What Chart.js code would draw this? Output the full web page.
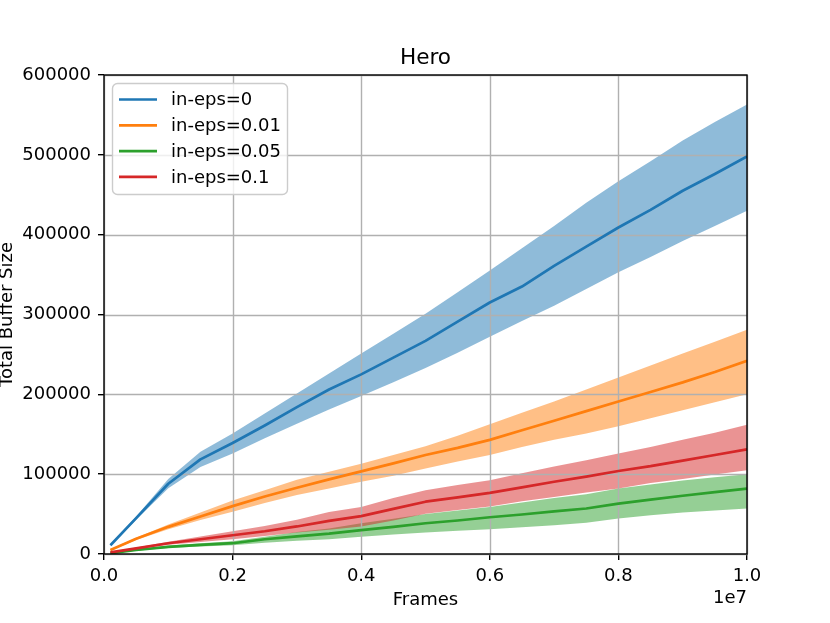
<!DOCTYPE html>
<html lang="en">
<head>
    <meta charset="UTF-8">
    <title>Hero</title>
    <script src="https://cdn.jsdelivr.net/npm/chart.js@4.4.1/dist/chart.umd.min.js"></script>
    <style>
        html, body {
            margin: 0;
            padding: 0;
            background: #ffffff;
        }
        #chart {
            display: block;
        }
    </style>
</head>
<body>
    <canvas id="chart" width="830" height="623"></canvas>

    <script>
        // Frames (x values)
        const FRAMES = [1e5, 5e5, 1e6, 1.5e6, 2e6, 2.5e6, 3e6, 3.5e6, 4e6, 4.5e6, 5e6,
                        5.5e6, 6e6, 6.5e6, 7e6, 7.5e6, 8e6, 8.5e6, 9e6, 9.5e6, 1e7];

        // in-eps=0
        const EPS0_MEAN = [11000, 45000, 88000, 118500, 139000, 161000, 184000, 206000, 225000, 246000, 267000,
                           291000, 315000, 335000, 361000, 385000, 409000, 431000, 455000, 476000, 498000];
        const EPS0_HIGH = [12000, 47000, 94000, 128000, 151000, 176000, 201000, 226000, 251000, 276000, 301000,
                           328000, 355000, 383000, 411000, 440000, 467000, 492000, 518000, 541000, 563000];
        const EPS0_LOW  = [10000, 43000, 82500, 109000, 126000, 145000, 163000, 181000, 198000, 215000, 233000,
                           252000, 272000, 292000, 311000, 332000, 353000, 372000, 392000, 411000, 430000];

        // in-eps=0.01
        const EPS001_MEAN = [5000, 19000, 34000, 47000, 60000, 72000, 83000, 93500, 103500, 113500, 124000,
                             133000, 143000, 155000, 167000, 179000, 191000, 203000, 215000, 228000, 242000];
        const EPS001_HIGH = [6000, 20500, 37000, 52000, 67000, 80000, 93000, 103000, 113000, 124000, 135000,
                             148000, 162500, 177000, 191000, 206000, 221000, 236000, 251000, 266000, 281000];
        const EPS001_LOW  = [4000, 17500, 31000, 42500, 53000, 64000, 74000, 82000, 90500, 98000, 107000,
                             116000, 124000, 134000, 143000, 151000, 160000, 170000, 180000, 190000, 200000];

        // in-eps=0.05
        const EPS005_MEAN = [1000, 5000, 9000, 11500, 13500, 18500, 22000, 25500, 30000, 34000, 38500,
                             42000, 46000, 49500, 53500, 57000, 63000, 68000, 73000, 77500, 82000];
        const EPS005_HIGH = [1500, 6000, 10500, 13500, 16000, 21500, 27500, 32000, 38500, 44000, 50000,
                             54500, 59000, 64500, 70000, 75000, 82000, 87000, 92000, 96000, 100000];
        const EPS005_LOW  = [500, 4000, 7500, 9500, 11000, 14000, 16500, 18500, 21500, 24500, 27000,
                             29000, 31000, 33500, 36000, 39000, 44500, 48500, 52000, 54500, 57000];

        // in-eps=0.1
        const EPS01_MEAN = [2000, 7000, 13500, 18500, 23500, 28500, 34500, 41500, 47500, 56500, 65500,
                            71000, 76500, 83500, 90500, 97000, 104000, 110000, 117000, 124000, 131000];
        const EPS01_HIGH = [2500, 8000, 15500, 22000, 28500, 35000, 43000, 52500, 59000, 70000, 80000,
                            86500, 92500, 101000, 109500, 117500, 126000, 134000, 143000, 152000, 162000];
        const EPS01_LOW  = [1500, 6000, 11500, 15000, 18500, 22500, 27000, 30500, 34500, 42000, 50500,
                            55000, 59500, 66000, 71500, 77000, 82000, 89000, 94000, 99500, 105000];

        const LABELS = ['in-eps=0', 'in-eps=0.01', 'in-eps=0.05', 'in-eps=0.1'];
        const COLORS = ['#1f77b4', '#ff7f0e', '#2ca02c', '#d62728'];
        const FILLS = ['rgba(31,119,180,0.5)', 'rgba(255,127,14,0.5)', 'rgba(44,160,44,0.5)', 'rgba(214,39,40,0.5)'];

        const SERIES = [
            [EPS0_MEAN, EPS0_HIGH, EPS0_LOW],
            [EPS001_MEAN, EPS001_HIGH, EPS001_LOW],
            [EPS005_MEAN, EPS005_HIGH, EPS005_LOW],
            [EPS01_MEAN, EPS01_HIGH, EPS01_LOW]
        ];

        const FONT = "'DejaVu Sans', sans-serif";

        function points(values) {
            return FRAMES.map((f, i) => ({ x: f, y: values[i] }));
        }

        // Build datasets: upper edge, lower edge (filled to upper), then mean line
        const datasets = [];
        SERIES.forEach(([mean, high, low], s) => {
            const base = 100 - s * 10;
            datasets.push({
                data: points(high),
                borderWidth: 0,
                borderColor: 'rgba(0,0,0,0)',
                pointRadius: 0,
                fill: false,
                order: base
            });
            datasets.push({
                data: points(low),
                borderWidth: 0,
                borderColor: 'rgba(0,0,0,0)',
                backgroundColor: FILLS[s],
                pointRadius: 0,
                fill: '-1',
                order: base
            });
            datasets.push({
                label: LABELS[s],
                data: points(mean),
                borderColor: COLORS[s],
                borderWidth: 2.7,
                borderJoinStyle: 'round',
                pointRadius: 0,
                fill: false,
                order: base - 1
            });
        });

        // Matplotlib-ish decorations: grid over fills, spines, title, labels, legend
        const decorations = {
            id: 'decorations',
            beforeDatasetsDraw(chart) {
                const { ctx, chartArea: a, scales: { x, y } } = chart;
                ctx.save();
                ctx.strokeStyle = '#b0b0b0';
                ctx.lineWidth = 1.4;
                x.ticks.forEach(t => {
                    const px = Math.round(x.getPixelForValue(t.value)) + 0.5;
                    ctx.beginPath();
                    ctx.moveTo(px, a.top);
                    ctx.lineTo(px, a.bottom);
                    ctx.stroke();
                });
                y.ticks.forEach(t => {
                    const py = Math.round(y.getPixelForValue(t.value)) + 0.5;
                    ctx.beginPath();
                    ctx.moveTo(a.left, py);
                    ctx.lineTo(a.right, py);
                    ctx.stroke();
                });
                ctx.restore();
            },
            afterDraw(chart) {
                const { ctx, chartArea: a } = chart;
                ctx.save();

                // spines
                ctx.strokeStyle = '#000';
                ctx.lineWidth = 1.4;
                ctx.strokeRect(a.left, a.top, a.right - a.left, a.bottom - a.top);

                const cx = (a.left + a.right) / 2;
                ctx.fillStyle = '#000';

                // title
                ctx.font = '21.6px ' + FONT;
                ctx.textAlign = 'center';
                ctx.textBaseline = 'alphabetic';
                ctx.fillText('Hero', cx, 64);

                // axis labels
                ctx.font = '18px ' + FONT;
                ctx.fillText('Frames', cx, 605);
                ctx.textAlign = 'right';
                ctx.fillText('1e7', a.right, 603);

                ctx.save();
                ctx.translate(12, (a.top + a.bottom) / 2);
                ctx.rotate(-Math.PI / 2);
                ctx.textAlign = 'center';
                ctx.fillText('Total Buffer Size', 0, 0);
                ctx.restore();

                // legend
                const bx = 112.5, by = 83.5, bw = 175, bh = 111, r = 5;
                ctx.beginPath();
                ctx.moveTo(bx + r, by);
                ctx.arcTo(bx + bw, by, bx + bw, by + bh, r);
                ctx.arcTo(bx + bw, by + bh, bx, by + bh, r);
                ctx.arcTo(bx, by + bh, bx, by, r);
                ctx.arcTo(bx, by, bx + bw, by, r);
                ctx.closePath();
                ctx.fillStyle = 'rgba(255,255,255,0.8)';
                ctx.fill();
                ctx.strokeStyle = '#cccccc';
                ctx.lineWidth = 1.4;
                ctx.stroke();

                ctx.font = '18px ' + FONT;
                ctx.textAlign = 'left';
                ctx.textBaseline = 'middle';
                LABELS.forEach((label, i) => {
                    const ly = 99.5 + i * 25.8;
                    ctx.strokeStyle = COLORS[i];
                    ctx.lineWidth = 2.7;
                    ctx.beginPath();
                    ctx.moveTo(119, ly);
                    ctx.lineTo(157, ly);
                    ctx.stroke();
                    ctx.fillStyle = '#000';
                    ctx.fillText(label, 171, ly + 1);
                });

                ctx.restore();
            }
        };

        const ctx = document.getElementById('chart').getContext('2d');
        new Chart(ctx, {
            type: 'line',
            data: { datasets },
            options: {
                responsive: false,
                animation: false,
                devicePixelRatio: 1,
                layout: {
                    padding: { left: 0, top: 75, right: 83, bottom: 0 }
                },
                plugins: {
                    legend: { display: false },
                    title: { display: false },
                    tooltip: { enabled: false },
                    filler: { drawTime: 'beforeDatasetsDraw' }
                },
                scales: {
                    x: {
                        type: 'linear',
                        min: 0,
                        max: 1e7,
                        afterFit(scale) { scale.height = 69; },
                        border: { display: false },
                        grid: {
                            color: 'rgba(0,0,0,0)',
                            tickColor: '#000',
                            tickLength: 6,
                            lineWidth: 1.4
                        },
                        ticks: {
                            stepSize: 2e6,
                            padding: 6,
                            color: '#000',
                            font: { family: FONT, size: 18 },
                            maxRotation: 0,
                            callback: v => (v / 1e7).toFixed(1)
                        }
                    },
                    y: {
                        min: 0,
                        max: 600000,
                        afterFit(scale) { scale.width = 104; },
                        border: { display: false },
                        grid: {
                            color: 'rgba(0,0,0,0)',
                            tickColor: '#000',
                            tickLength: 6,
                            lineWidth: 1.4
                        },
                        ticks: {
                            stepSize: 100000,
                            padding: 7,
                            color: '#000',
                            font: { family: FONT, size: 18 },
                            callback: v => String(v)
                        }
                    }
                }
            },
            plugins: [decorations]
        });
    </script>
</body>
</html>
